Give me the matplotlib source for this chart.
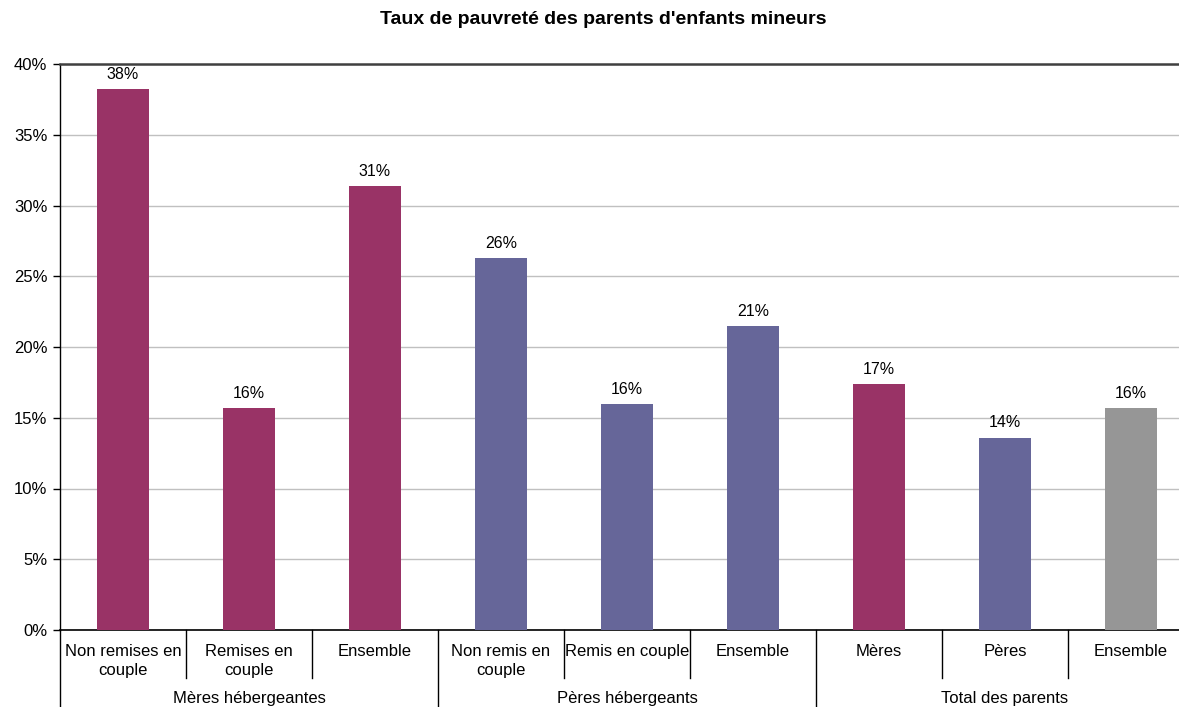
import numpy as np
import matplotlib.pyplot as plt
from matplotlib.transforms import blended_transform_factory

plt.rcParams['font.family'] = ['Liberation Sans', 'DejaVu Sans']

categories = ['Non remises en\ncouple', 'Remises en\ncouple', 'Ensemble',
              'Non remis en\ncouple', 'Remis en couple', 'Ensemble',
              'Mères', 'Pères', 'Ensemble']
values = [38.2, 15.7, 31.4, 26.3, 16.0, 21.5, 17.4, 13.6, 15.7]
labels = ['38%', '16%', '31%', '26%', '16%', '21%', '17%', '14%', '16%']
groups = ['Mères hébergeantes', 'Pères hébergeants', 'Total des parents']
group_sizes = [3, 3, 3]

MAROON = '#993366'
BLUE = '#666699'
GREY = '#969696'
colors = [MAROON] * 3 + [BLUE] * 3 + [MAROON, BLUE, GREY]

W, H = 1179, 707
fig = plt.figure(figsize=(W / 100, H / 100), dpi=100)
# plot area runs a little past the right edge of the figure
ax = fig.add_axes([60 / W, 1 - 630 / H, (1194 - 60) / W, (630 - 64) / H])

x = np.arange(len(values))
ax.bar(x, values, width=0.42, color=colors, zorder=3)

for xi, v, lab in zip(x, values, labels):
    ax.text(xi, v + 0.5, lab, ha='center', va='bottom', fontsize=11.5)

ax.set_xlim(-0.5, len(values) - 0.5)
ax.set_ylim(0, 40)
ax.set_yticks(np.arange(0, 41, 5))
ax.set_yticklabels([f'{t}%' for t in range(0, 41, 5)], fontsize=12)
ax.yaxis.grid(True, color='#c0c0c0', linewidth=1, zorder=0)
ax.tick_params(axis='y', length=5, width=1, color='black', pad=4)

ax.set_xticks([])
ax.spines['right'].set_visible(False)
ax.spines['top'].set_color('#404040')
ax.spines['top'].set_linewidth(1.8)
ax.spines['left'].set_linewidth(1)
ax.spines['bottom'].set_linewidth(1.2)

# category labels and separators under the axis
trans = blended_transform_factory(ax.transData, ax.transAxes)
h = ax.get_position().height * H  # axes height in px
def dy(px):
    return -px / h

for xi, cat in zip(x, categories):
    ax.text(xi, dy(14), cat, transform=trans, ha='center', va='top',
            fontsize=12, linespacing=1.3)

bounds = np.cumsum([0] + group_sizes) - 0.5
for b in np.arange(-0.5, len(values)):
    depth = 80 if b in bounds else 48
    ax.plot([b, b], [0, dy(depth)], transform=trans, color='black',
            linewidth=1, clip_on=False)

start = 0
for g, n in zip(groups, group_sizes):
    ax.text(start + (n - 1) / 2, dy(61), g, transform=trans, ha='center',
            va='top', fontsize=12)
    start += n

fig.text(603 / W, 1 - 19 / H, "Taux de pauvreté des parents d'enfants mineurs",
         fontsize=14, fontweight='bold', ha='center', va='center')

fig.savefig('out.png', dpi=100)
